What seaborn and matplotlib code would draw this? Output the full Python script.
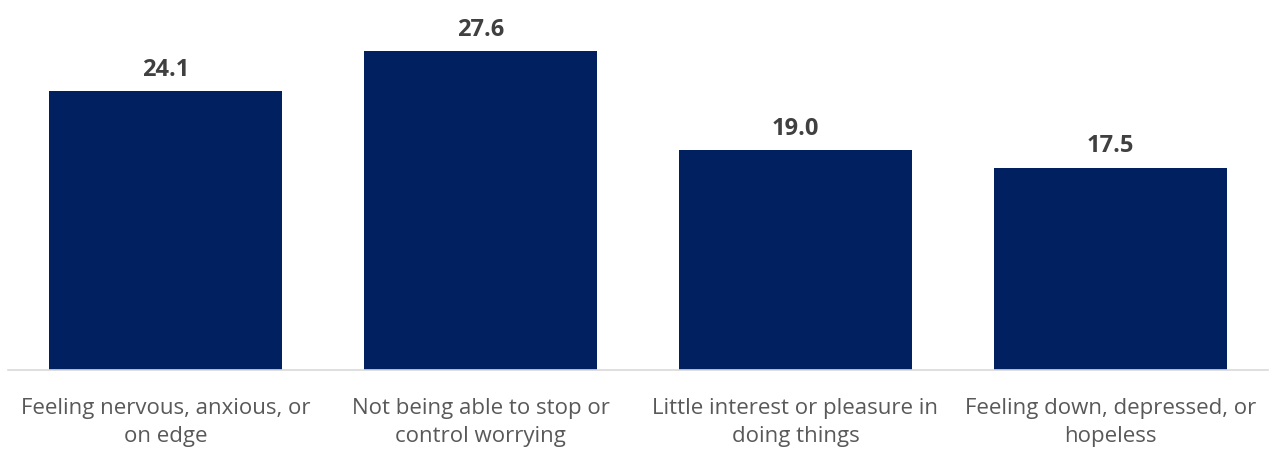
import matplotlib
matplotlib.use("Agg")
import matplotlib.pyplot as plt
import seaborn as sns
import pandas as pd

categories = ["Feeling nervous, anxious, or\non edge",
              "Not being able to stop or\ncontrol worrying",
              "Little interest or pleasure in\ndoing things",
              "Feeling down, depressed, or\nhopeless"]
values = [24.1, 27.6, 19.0, 17.5]

sns.set_theme(style="white")
plt.rcParams['font.family'] = ['Open Sans', 'DejaVu Sans']

df = pd.DataFrame({"cat": categories, "val": values})

fig = plt.figure(figsize=(12.7, 4.5), dpi=100)
ax = fig.add_axes([8/1270, 80/450, 1260/1270, (370-23)/450])
sns.barplot(data=df, x="cat", y="val", color="#002060", width=0.74,
            saturation=1, ax=ax, edgecolor="none")
ax.set_xlim(-0.5, 3.5)
ax.set_ylim(0, 30)
for i, v in enumerate(values):
    ax.text(i, v + 0.8, f"{v:.1f}", ha="center", va="bottom", fontsize=17,
            fontweight="bold", color="#404040")
for s in ["top", "right", "left"]:
    ax.spines[s].set_visible(False)
ax.spines["bottom"].set_color("#D9D9D9")
ax.spines["bottom"].set_linewidth(1.2)
ax.set_yticks([])
ax.set_xlabel("")
ax.set_ylabel("")
ax.tick_params(axis="x", length=0, pad=20, labelsize=16, labelcolor="#595959")
for t in ax.get_xticklabels():
    t.set_linespacing(1.45)
fig.savefig("out.png", dpi=100, facecolor="white")
